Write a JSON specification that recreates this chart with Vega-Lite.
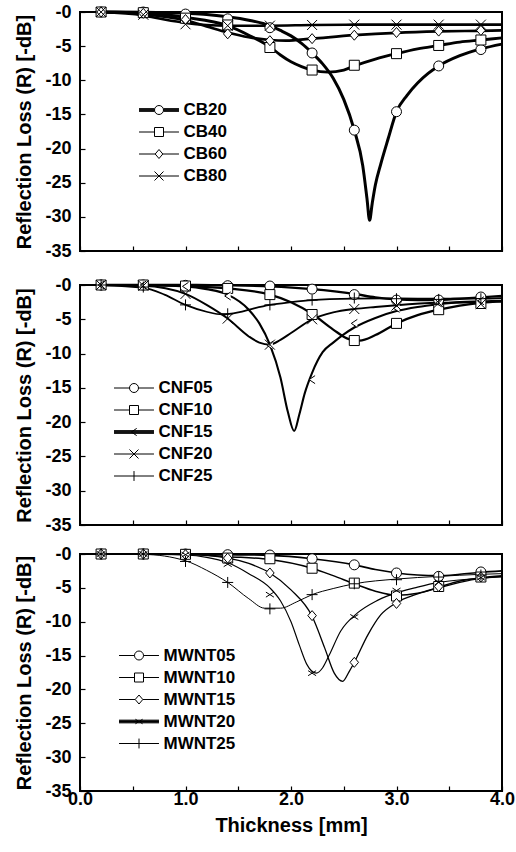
{
"$schema": "https://vega.github.io/schema/vega-lite/v6.json",
"padding": {"left": 13, "top": 2, "right": 5, "bottom": 5},
"config": {
  "font": "Liberation Sans",
  "view": {"stroke": "black", "strokeWidth": 2},
  "axis": {"domain": false, "grid": false, "ticks": true, "tickColor": "black", "tickSize": -5, "tickWidth": 1.2, "labelOverlap": false, "labelFlush": false,
    "labelFont": "Liberation Sans", "labelFontWeight": "bold", "labelFontSize": 18, "labelColor": "black",
    "titleFont": "Liberation Sans", "titleFontWeight": "bold", "titleFontSize": 20, "titleColor": "black"},
  "legend": {"labelFont": "Liberation Sans", "labelFontWeight": "bold", "labelFontSize": 17, "labelColor": "black",
    "symbolSize": 81, "symbolStrokeWidth": 1, "symbolStrokeColor": "black", "symbolFillColor": "white", "symbolOpacity": 1,
    "symbolOffset": 9.5, "labelOffset": 16, "rowPadding": 4, "padding": 0, "title": null}
},
"datasets": {
"curves": [
{"panel":"CB","series":"CB20","x":0.2,"y":0},{"panel":"CB","series":"CB20","x":0.6,"y":-0.05},{"panel":"CB","series":"CB20","x":1.0,"y":-0.2},{"panel":"CB","series":"CB20","x":1.2,"y":-0.35},{"panel":"CB","series":"CB20","x":1.4,"y":-0.7},{"panel":"CB","series":"CB20","x":1.6,"y":-1.2},{"panel":"CB","series":"CB20","x":1.8,"y":-2.0},{"panel":"CB","series":"CB20","x":1.9,"y":-2.7},{"panel":"CB","series":"CB20","x":2.0,"y":-3.5},{"panel":"CB","series":"CB20","x":2.1,"y":-4.6},{"panel":"CB","series":"CB20","x":2.2,"y":-6.0},{"panel":"CB","series":"CB20","x":2.3,"y":-7.6},{"panel":"CB","series":"CB20","x":2.4,"y":-9.7},{"panel":"CB","series":"CB20","x":2.5,"y":-12.8},{"panel":"CB","series":"CB20","x":2.6,"y":-17.3},{"panel":"CB","series":"CB20","x":2.68,"y":-22.5},{"panel":"CB","series":"CB20","x":2.72,"y":-27.3},{"panel":"CB","series":"CB20","x":2.745,"y":-30.5},{"panel":"CB","series":"CB20","x":2.77,"y":-28.0},{"panel":"CB","series":"CB20","x":2.8,"y":-25.3},{"panel":"CB","series":"CB20","x":2.85,"y":-22.3},{"panel":"CB","series":"CB20","x":2.92,"y":-18.6},{"panel":"CB","series":"CB20","x":3.0,"y":-14.6},{"panel":"CB","series":"CB20","x":3.1,"y":-12.2},{"panel":"CB","series":"CB20","x":3.2,"y":-10.4},{"panel":"CB","series":"CB20","x":3.3,"y":-9.0},{"panel":"CB","series":"CB20","x":3.4,"y":-7.9},{"panel":"CB","series":"CB20","x":3.6,"y":-6.4},{"panel":"CB","series":"CB20","x":3.8,"y":-5.4},{"panel":"CB","series":"CB20","x":4.0,"y":-4.7},
{"panel":"CB","series":"CB40","x":0.2,"y":0},{"panel":"CB","series":"CB40","x":0.6,"y":-0.15},{"panel":"CB","series":"CB40","x":1.0,"y":-0.8},{"panel":"CB","series":"CB40","x":1.4,"y":-2.0},{"panel":"CB","series":"CB40","x":1.6,"y":-3.4},{"panel":"CB","series":"CB40","x":1.8,"y":-5.1},{"panel":"CB","series":"CB40","x":1.9,"y":-6.3},{"panel":"CB","series":"CB40","x":2.0,"y":-7.3},{"panel":"CB","series":"CB40","x":2.1,"y":-8.0},{"panel":"CB","series":"CB40","x":2.2,"y":-8.5},{"panel":"CB","series":"CB40","x":2.35,"y":-8.8},{"panel":"CB","series":"CB40","x":2.5,"y":-8.5},{"panel":"CB","series":"CB40","x":2.6,"y":-7.9},{"panel":"CB","series":"CB40","x":2.8,"y":-6.9},{"panel":"CB","series":"CB40","x":3.0,"y":-6.1},{"panel":"CB","series":"CB40","x":3.2,"y":-5.4},{"panel":"CB","series":"CB40","x":3.4,"y":-4.9},{"panel":"CB","series":"CB40","x":3.6,"y":-4.4},{"panel":"CB","series":"CB40","x":3.8,"y":-4.1},{"panel":"CB","series":"CB40","x":4.0,"y":-3.8},
{"panel":"CB","series":"CB60","x":0.2,"y":0},{"panel":"CB","series":"CB60","x":0.6,"y":-0.3},{"panel":"CB","series":"CB60","x":1.0,"y":-1.2},{"panel":"CB","series":"CB60","x":1.2,"y":-2.1},{"panel":"CB","series":"CB60","x":1.4,"y":-3.0},{"panel":"CB","series":"CB60","x":1.6,"y":-3.7},{"panel":"CB","series":"CB60","x":1.8,"y":-4.1},{"panel":"CB","series":"CB60","x":1.95,"y":-4.2},{"panel":"CB","series":"CB60","x":2.2,"y":-3.9},{"panel":"CB","series":"CB60","x":2.6,"y":-3.4},{"panel":"CB","series":"CB60","x":3.0,"y":-3.05},{"panel":"CB","series":"CB60","x":3.4,"y":-2.85},{"panel":"CB","series":"CB60","x":3.8,"y":-2.75},{"panel":"CB","series":"CB60","x":4.0,"y":-2.7},
{"panel":"CB","series":"CB80","x":0.2,"y":0},{"panel":"CB","series":"CB80","x":0.6,"y":-0.5},{"panel":"CB","series":"CB80","x":0.8,"y":-1.1},{"panel":"CB","series":"CB80","x":1.0,"y":-1.6},{"panel":"CB","series":"CB80","x":1.2,"y":-1.9},{"panel":"CB","series":"CB80","x":1.4,"y":-2.0},{"panel":"CB","series":"CB80","x":1.8,"y":-2.0},{"panel":"CB","series":"CB80","x":2.2,"y":-1.9},{"panel":"CB","series":"CB80","x":2.6,"y":-1.85},{"panel":"CB","series":"CB80","x":3.0,"y":-1.85},{"panel":"CB","series":"CB80","x":3.4,"y":-1.85},{"panel":"CB","series":"CB80","x":3.8,"y":-1.85},{"panel":"CB","series":"CB80","x":4.0,"y":-1.85},
{"panel":"CNF","series":"CNF05","x":0.2,"y":0},{"panel":"CNF","series":"CNF05","x":1.0,"y":0},{"panel":"CNF","series":"CNF05","x":1.4,"y":-0.05},{"panel":"CNF","series":"CNF05","x":1.8,"y":-0.2},{"panel":"CNF","series":"CNF05","x":2.2,"y":-0.6},{"panel":"CNF","series":"CNF05","x":2.6,"y":-1.3},{"panel":"CNF","series":"CNF05","x":2.8,"y":-1.8},{"panel":"CNF","series":"CNF05","x":3.0,"y":-2.1},{"panel":"CNF","series":"CNF05","x":3.2,"y":-2.2},{"panel":"CNF","series":"CNF05","x":3.4,"y":-2.15},{"panel":"CNF","series":"CNF05","x":3.6,"y":-2.0},{"panel":"CNF","series":"CNF05","x":3.8,"y":-1.8},{"panel":"CNF","series":"CNF05","x":4.0,"y":-1.6},
{"panel":"CNF","series":"CNF10","x":0.2,"y":0},{"panel":"CNF","series":"CNF10","x":0.6,"y":0},{"panel":"CNF","series":"CNF10","x":1.0,"y":-0.15},{"panel":"CNF","series":"CNF10","x":1.4,"y":-0.5},{"panel":"CNF","series":"CNF10","x":1.8,"y":-1.4},{"panel":"CNF","series":"CNF10","x":2.0,"y":-2.5},{"panel":"CNF","series":"CNF10","x":2.2,"y":-4.2},{"panel":"CNF","series":"CNF10","x":2.4,"y":-6.5},{"panel":"CNF","series":"CNF10","x":2.55,"y":-7.9},{"panel":"CNF","series":"CNF10","x":2.65,"y":-8.1},{"panel":"CNF","series":"CNF10","x":2.8,"y":-7.3},{"panel":"CNF","series":"CNF10","x":3.0,"y":-5.6},{"panel":"CNF","series":"CNF10","x":3.2,"y":-4.4},{"panel":"CNF","series":"CNF10","x":3.4,"y":-3.6},{"panel":"CNF","series":"CNF10","x":3.6,"y":-3.0},{"panel":"CNF","series":"CNF10","x":3.8,"y":-2.6},{"panel":"CNF","series":"CNF10","x":4.0,"y":-2.4},
{"panel":"CNF","series":"CNF15","x":0.2,"y":0},{"panel":"CNF","series":"CNF15","x":0.6,"y":-0.02},{"panel":"CNF","series":"CNF15","x":1.0,"y":-0.2},{"panel":"CNF","series":"CNF15","x":1.2,"y":-0.6},{"panel":"CNF","series":"CNF15","x":1.4,"y":-1.4},{"panel":"CNF","series":"CNF15","x":1.6,"y":-3.6},{"panel":"CNF","series":"CNF15","x":1.7,"y":-5.6},{"panel":"CNF","series":"CNF15","x":1.8,"y":-8.7},{"panel":"CNF","series":"CNF15","x":1.9,"y":-13.5},{"panel":"CNF","series":"CNF15","x":1.97,"y":-18.5},{"panel":"CNF","series":"CNF15","x":2.03,"y":-21.3},{"panel":"CNF","series":"CNF15","x":2.08,"y":-18.8},{"panel":"CNF","series":"CNF15","x":2.13,"y":-15.8},{"panel":"CNF","series":"CNF15","x":2.2,"y":-12.8},{"panel":"CNF","series":"CNF15","x":2.3,"y":-9.8},{"panel":"CNF","series":"CNF15","x":2.4,"y":-8.4},{"panel":"CNF","series":"CNF15","x":2.5,"y":-7.2},{"panel":"CNF","series":"CNF15","x":2.6,"y":-6.2},{"panel":"CNF","series":"CNF15","x":2.8,"y":-4.8},{"panel":"CNF","series":"CNF15","x":3.0,"y":-3.8},{"panel":"CNF","series":"CNF15","x":3.2,"y":-3.2},{"panel":"CNF","series":"CNF15","x":3.4,"y":-2.8},{"panel":"CNF","series":"CNF15","x":3.6,"y":-2.5},{"panel":"CNF","series":"CNF15","x":3.8,"y":-2.4},{"panel":"CNF","series":"CNF15","x":4.0,"y":-2.3},
{"panel":"CNF","series":"CNF20","x":0.2,"y":0},{"panel":"CNF","series":"CNF20","x":0.6,"y":-0.1},{"panel":"CNF","series":"CNF20","x":1.0,"y":-1.3},{"panel":"CNF","series":"CNF20","x":1.2,"y":-2.9},{"panel":"CNF","series":"CNF20","x":1.4,"y":-4.9},{"panel":"CNF","series":"CNF20","x":1.6,"y":-7.5},{"panel":"CNF","series":"CNF20","x":1.7,"y":-8.4},{"panel":"CNF","series":"CNF20","x":1.8,"y":-8.7},{"panel":"CNF","series":"CNF20","x":1.9,"y":-8.0},{"panel":"CNF","series":"CNF20","x":2.0,"y":-7.0},{"panel":"CNF","series":"CNF20","x":2.2,"y":-5.0},{"panel":"CNF","series":"CNF20","x":2.4,"y":-4.0},{"panel":"CNF","series":"CNF20","x":2.6,"y":-3.5},{"panel":"CNF","series":"CNF20","x":2.8,"y":-3.2},{"panel":"CNF","series":"CNF20","x":3.0,"y":-2.95},{"panel":"CNF","series":"CNF20","x":3.4,"y":-2.6},{"panel":"CNF","series":"CNF20","x":3.8,"y":-2.5},{"panel":"CNF","series":"CNF20","x":4.0,"y":-2.4},
{"panel":"CNF","series":"CNF25","x":0.2,"y":0},{"panel":"CNF","series":"CNF25","x":0.6,"y":-0.4},{"panel":"CNF","series":"CNF25","x":0.8,"y":-1.4},{"panel":"CNF","series":"CNF25","x":1.0,"y":-2.9},{"panel":"CNF","series":"CNF25","x":1.2,"y":-3.9},{"panel":"CNF","series":"CNF25","x":1.35,"y":-4.3},{"panel":"CNF","series":"CNF25","x":1.5,"y":-4.0},{"panel":"CNF","series":"CNF25","x":1.65,"y":-3.4},{"panel":"CNF","series":"CNF25","x":1.8,"y":-2.9},{"panel":"CNF","series":"CNF25","x":2.0,"y":-2.5},{"panel":"CNF","series":"CNF25","x":2.2,"y":-2.2},{"panel":"CNF","series":"CNF25","x":2.6,"y":-2.0},{"panel":"CNF","series":"CNF25","x":3.0,"y":-1.95},{"panel":"CNF","series":"CNF25","x":3.4,"y":-2.0},{"panel":"CNF","series":"CNF25","x":3.8,"y":-2.0},{"panel":"CNF","series":"CNF25","x":4.0,"y":-1.9},
{"panel":"MWNT","series":"MWNT05","x":0.2,"y":0},{"panel":"MWNT","series":"MWNT05","x":1.0,"y":0},{"panel":"MWNT","series":"MWNT05","x":1.4,"y":-0.1},{"panel":"MWNT","series":"MWNT05","x":1.8,"y":-0.2},{"panel":"MWNT","series":"MWNT05","x":2.2,"y":-0.7},{"panel":"MWNT","series":"MWNT05","x":2.6,"y":-1.6},{"panel":"MWNT","series":"MWNT05","x":2.8,"y":-2.3},{"panel":"MWNT","series":"MWNT05","x":3.0,"y":-2.8},{"panel":"MWNT","series":"MWNT05","x":3.2,"y":-3.1},{"panel":"MWNT","series":"MWNT05","x":3.4,"y":-3.2},{"panel":"MWNT","series":"MWNT05","x":3.6,"y":-3.0},{"panel":"MWNT","series":"MWNT05","x":3.8,"y":-2.7},{"panel":"MWNT","series":"MWNT05","x":4.0,"y":-2.5},
{"panel":"MWNT","series":"MWNT10","x":0.2,"y":0},{"panel":"MWNT","series":"MWNT10","x":1.0,"y":-0.05},{"panel":"MWNT","series":"MWNT10","x":1.4,"y":-0.4},{"panel":"MWNT","series":"MWNT10","x":1.8,"y":-0.8},{"panel":"MWNT","series":"MWNT10","x":2.2,"y":-2.1},{"panel":"MWNT","series":"MWNT10","x":2.4,"y":-3.2},{"panel":"MWNT","series":"MWNT10","x":2.6,"y":-4.4},{"panel":"MWNT","series":"MWNT10","x":2.8,"y":-5.5},{"panel":"MWNT","series":"MWNT10","x":3.0,"y":-6.1},{"panel":"MWNT","series":"MWNT10","x":3.2,"y":-5.8},{"panel":"MWNT","series":"MWNT10","x":3.4,"y":-4.9},{"panel":"MWNT","series":"MWNT10","x":3.6,"y":-4.0},{"panel":"MWNT","series":"MWNT10","x":3.8,"y":-3.5},{"panel":"MWNT","series":"MWNT10","x":4.0,"y":-3.2},
{"panel":"MWNT","series":"MWNT15","x":0.2,"y":0},{"panel":"MWNT","series":"MWNT15","x":1.0,"y":-0.1},{"panel":"MWNT","series":"MWNT15","x":1.4,"y":-0.6},{"panel":"MWNT","series":"MWNT15","x":1.6,"y":-1.4},{"panel":"MWNT","series":"MWNT15","x":1.8,"y":-2.8},{"panel":"MWNT","series":"MWNT15","x":2.0,"y":-5.3},{"panel":"MWNT","series":"MWNT15","x":2.2,"y":-9.2},{"panel":"MWNT","series":"MWNT15","x":2.32,"y":-13.9},{"panel":"MWNT","series":"MWNT15","x":2.41,"y":-17.6},{"panel":"MWNT","series":"MWNT15","x":2.49,"y":-18.8},{"panel":"MWNT","series":"MWNT15","x":2.55,"y":-17.4},{"panel":"MWNT","series":"MWNT15","x":2.6,"y":-16.0},{"panel":"MWNT","series":"MWNT15","x":2.73,"y":-11.9},{"panel":"MWNT","series":"MWNT15","x":2.85,"y":-9.0},{"panel":"MWNT","series":"MWNT15","x":3.0,"y":-7.2},{"panel":"MWNT","series":"MWNT15","x":3.2,"y":-5.9},{"panel":"MWNT","series":"MWNT15","x":3.4,"y":-5.0},{"panel":"MWNT","series":"MWNT15","x":3.6,"y":-4.2},{"panel":"MWNT","series":"MWNT15","x":3.8,"y":-3.6},{"panel":"MWNT","series":"MWNT15","x":4.0,"y":-3.3},
{"panel":"MWNT","series":"MWNT20","x":0.2,"y":0},{"panel":"MWNT","series":"MWNT20","x":0.6,"y":0},{"panel":"MWNT","series":"MWNT20","x":1.0,"y":-0.15},{"panel":"MWNT","series":"MWNT20","x":1.2,"y":-0.5},{"panel":"MWNT","series":"MWNT20","x":1.4,"y":-1.3},{"panel":"MWNT","series":"MWNT20","x":1.6,"y":-2.9},{"panel":"MWNT","series":"MWNT20","x":1.8,"y":-5.0},{"panel":"MWNT","series":"MWNT20","x":1.9,"y":-6.9},{"panel":"MWNT","series":"MWNT20","x":2.0,"y":-10.0},{"panel":"MWNT","series":"MWNT20","x":2.08,"y":-13.5},{"panel":"MWNT","series":"MWNT20","x":2.15,"y":-16.3},{"panel":"MWNT","series":"MWNT20","x":2.24,"y":-17.6},{"panel":"MWNT","series":"MWNT20","x":2.3,"y":-16.8},{"panel":"MWNT","series":"MWNT20","x":2.36,"y":-15.0},{"panel":"MWNT","series":"MWNT20","x":2.47,"y":-11.4},{"panel":"MWNT","series":"MWNT20","x":2.63,"y":-8.7},{"panel":"MWNT","series":"MWNT20","x":2.8,"y":-7.0},{"panel":"MWNT","series":"MWNT20","x":2.95,"y":-6.0},{"panel":"MWNT","series":"MWNT20","x":3.2,"y":-4.9},{"panel":"MWNT","series":"MWNT20","x":3.4,"y":-4.2},{"panel":"MWNT","series":"MWNT20","x":3.7,"y":-3.7},{"panel":"MWNT","series":"MWNT20","x":4.0,"y":-3.4},
{"panel":"MWNT","series":"MWNT25","x":0.2,"y":0},{"panel":"MWNT","series":"MWNT25","x":0.6,"y":-0.05},{"panel":"MWNT","series":"MWNT25","x":1.0,"y":-1.0},{"panel":"MWNT","series":"MWNT25","x":1.2,"y":-2.4},{"panel":"MWNT","series":"MWNT25","x":1.4,"y":-4.2},{"panel":"MWNT","series":"MWNT25","x":1.6,"y":-6.6},{"panel":"MWNT","series":"MWNT25","x":1.75,"y":-8.0},{"panel":"MWNT","series":"MWNT25","x":1.9,"y":-8.0},{"panel":"MWNT","series":"MWNT25","x":2.05,"y":-7.1},{"panel":"MWNT","series":"MWNT25","x":2.2,"y":-6.0},{"panel":"MWNT","series":"MWNT25","x":2.4,"y":-5.1},{"panel":"MWNT","series":"MWNT25","x":2.6,"y":-4.4},{"panel":"MWNT","series":"MWNT25","x":3.0,"y":-3.7},{"panel":"MWNT","series":"MWNT25","x":3.4,"y":-3.3},{"panel":"MWNT","series":"MWNT25","x":3.8,"y":-3.0},{"panel":"MWNT","series":"MWNT25","x":4.0,"y":-2.9}
],
"points": [
{"panel":"CB","series":"CB20","x":0.2,"y":0},{"panel":"CB","series":"CB20","x":0.6,"y":0},{"panel":"CB","series":"CB20","x":1.0,"y":-0.3},{"panel":"CB","series":"CB20","x":1.4,"y":-1.0},{"panel":"CB","series":"CB20","x":1.8,"y":-2.3},{"panel":"CB","series":"CB20","x":2.2,"y":-6.0},{"panel":"CB","series":"CB20","x":2.6,"y":-17.3},{"panel":"CB","series":"CB20","x":3.0,"y":-14.6},{"panel":"CB","series":"CB20","x":3.4,"y":-7.9},{"panel":"CB","series":"CB20","x":3.8,"y":-5.5},
{"panel":"CB","series":"CB40","x":0.2,"y":0},{"panel":"CB","series":"CB40","x":0.6,"y":-0.1},{"panel":"CB","series":"CB40","x":1.0,"y":-0.9},{"panel":"CB","series":"CB40","x":1.4,"y":-1.9},{"panel":"CB","series":"CB40","x":1.8,"y":-5.2},{"panel":"CB","series":"CB40","x":2.2,"y":-8.5},{"panel":"CB","series":"CB40","x":2.6,"y":-7.8},{"panel":"CB","series":"CB40","x":3.0,"y":-6.1},{"panel":"CB","series":"CB40","x":3.4,"y":-4.9},{"panel":"CB","series":"CB40","x":3.8,"y":-4.1},
{"panel":"CB","series":"CB60","x":0.2,"y":0},{"panel":"CB","series":"CB60","x":0.6,"y":-0.2},{"panel":"CB","series":"CB60","x":1.0,"y":-1.1},{"panel":"CB","series":"CB60","x":1.4,"y":-3.2},{"panel":"CB","series":"CB60","x":1.8,"y":-4.2},{"panel":"CB","series":"CB60","x":2.2,"y":-3.9},{"panel":"CB","series":"CB60","x":2.6,"y":-3.4},{"panel":"CB","series":"CB60","x":3.0,"y":-3.0},{"panel":"CB","series":"CB60","x":3.4,"y":-2.8},{"panel":"CB","series":"CB60","x":3.8,"y":-2.7},
{"panel":"CB","series":"CB80","x":0.2,"y":0},{"panel":"CB","series":"CB80","x":0.6,"y":-0.4},{"panel":"CB","series":"CB80","x":1.0,"y":-1.8},{"panel":"CB","series":"CB80","x":1.4,"y":-2.0},{"panel":"CB","series":"CB80","x":1.8,"y":-2.0},{"panel":"CB","series":"CB80","x":2.2,"y":-1.9},{"panel":"CB","series":"CB80","x":2.6,"y":-1.85},{"panel":"CB","series":"CB80","x":3.0,"y":-1.85},{"panel":"CB","series":"CB80","x":3.4,"y":-1.85},{"panel":"CB","series":"CB80","x":3.8,"y":-1.85},
{"panel":"CNF","series":"CNF05","x":0.2,"y":0},{"panel":"CNF","series":"CNF05","x":0.6,"y":0},{"panel":"CNF","series":"CNF05","x":1.0,"y":-0.05},{"panel":"CNF","series":"CNF05","x":1.4,"y":-0.1},{"panel":"CNF","series":"CNF05","x":1.8,"y":-0.15},{"panel":"CNF","series":"CNF05","x":2.2,"y":-0.6},{"panel":"CNF","series":"CNF05","x":2.6,"y":-1.4},{"panel":"CNF","series":"CNF05","x":3.0,"y":-2.2},{"panel":"CNF","series":"CNF05","x":3.4,"y":-2.2},{"panel":"CNF","series":"CNF05","x":3.8,"y":-1.75},
{"panel":"CNF","series":"CNF10","x":0.2,"y":0},{"panel":"CNF","series":"CNF10","x":0.6,"y":0},{"panel":"CNF","series":"CNF10","x":1.0,"y":-0.15},{"panel":"CNF","series":"CNF10","x":1.4,"y":-0.5},{"panel":"CNF","series":"CNF10","x":1.8,"y":-1.4},{"panel":"CNF","series":"CNF10","x":2.2,"y":-4.3},{"panel":"CNF","series":"CNF10","x":2.6,"y":-8.1},{"panel":"CNF","series":"CNF10","x":3.0,"y":-5.6},{"panel":"CNF","series":"CNF10","x":3.4,"y":-3.6},{"panel":"CNF","series":"CNF10","x":3.8,"y":-2.7},
{"panel":"CNF","series":"CNF15","x":0.2,"y":0},{"panel":"CNF","series":"CNF15","x":0.6,"y":0},{"panel":"CNF","series":"CNF15","x":1.0,"y":-0.2},{"panel":"CNF","series":"CNF15","x":1.4,"y":-1.6},{"panel":"CNF","series":"CNF15","x":1.8,"y":-8.8},{"panel":"CNF","series":"CNF15","x":2.2,"y":-13.8},{"panel":"CNF","series":"CNF15","x":2.6,"y":-5.6},{"panel":"CNF","series":"CNF15","x":3.0,"y":-3.4},{"panel":"CNF","series":"CNF15","x":3.4,"y":-2.6},{"panel":"CNF","series":"CNF15","x":3.8,"y":-2.3},
{"panel":"CNF","series":"CNF20","x":0.2,"y":0},{"panel":"CNF","series":"CNF20","x":0.6,"y":-0.1},{"panel":"CNF","series":"CNF20","x":1.0,"y":-1.3},{"panel":"CNF","series":"CNF20","x":1.4,"y":-4.9},{"panel":"CNF","series":"CNF20","x":1.8,"y":-8.7},{"panel":"CNF","series":"CNF20","x":2.2,"y":-5.0},{"panel":"CNF","series":"CNF20","x":2.6,"y":-3.5},{"panel":"CNF","series":"CNF20","x":3.0,"y":-3.0},{"panel":"CNF","series":"CNF20","x":3.4,"y":-2.6},{"panel":"CNF","series":"CNF20","x":3.8,"y":-2.8},
{"panel":"CNF","series":"CNF25","x":0.2,"y":0},{"panel":"CNF","series":"CNF25","x":0.6,"y":-0.3},{"panel":"CNF","series":"CNF25","x":1.0,"y":-2.9},{"panel":"CNF","series":"CNF25","x":1.4,"y":-4.2},{"panel":"CNF","series":"CNF25","x":1.8,"y":-2.9},{"panel":"CNF","series":"CNF25","x":2.2,"y":-2.2},{"panel":"CNF","series":"CNF25","x":2.6,"y":-1.9},{"panel":"CNF","series":"CNF25","x":3.0,"y":-2.0},{"panel":"CNF","series":"CNF25","x":3.4,"y":-2.1},{"panel":"CNF","series":"CNF25","x":3.8,"y":-2.0},
{"panel":"MWNT","series":"MWNT05","x":0.2,"y":0},{"panel":"MWNT","series":"MWNT05","x":0.6,"y":0},{"panel":"MWNT","series":"MWNT05","x":1.0,"y":0},{"panel":"MWNT","series":"MWNT05","x":1.4,"y":-0.1},{"panel":"MWNT","series":"MWNT05","x":1.8,"y":-0.15},{"panel":"MWNT","series":"MWNT05","x":2.2,"y":-0.7},{"panel":"MWNT","series":"MWNT05","x":2.6,"y":-1.6},{"panel":"MWNT","series":"MWNT05","x":3.0,"y":-2.8},{"panel":"MWNT","series":"MWNT05","x":3.4,"y":-3.3},{"panel":"MWNT","series":"MWNT05","x":3.8,"y":-2.65},
{"panel":"MWNT","series":"MWNT10","x":0.2,"y":0},{"panel":"MWNT","series":"MWNT10","x":0.6,"y":0},{"panel":"MWNT","series":"MWNT10","x":1.0,"y":-0.05},{"panel":"MWNT","series":"MWNT10","x":1.4,"y":-0.6},{"panel":"MWNT","series":"MWNT10","x":1.8,"y":-0.7},{"panel":"MWNT","series":"MWNT10","x":2.2,"y":-2.1},{"panel":"MWNT","series":"MWNT10","x":2.6,"y":-4.3},{"panel":"MWNT","series":"MWNT10","x":3.0,"y":-6.2},{"panel":"MWNT","series":"MWNT10","x":3.4,"y":-4.8},{"panel":"MWNT","series":"MWNT10","x":3.8,"y":-3.4},
{"panel":"MWNT","series":"MWNT15","x":0.2,"y":0},{"panel":"MWNT","series":"MWNT15","x":0.6,"y":0},{"panel":"MWNT","series":"MWNT15","x":1.0,"y":-0.1},{"panel":"MWNT","series":"MWNT15","x":1.4,"y":-0.6},{"panel":"MWNT","series":"MWNT15","x":1.8,"y":-2.8},{"panel":"MWNT","series":"MWNT15","x":2.2,"y":-9.1},{"panel":"MWNT","series":"MWNT15","x":2.6,"y":-16.0},{"panel":"MWNT","series":"MWNT15","x":3.0,"y":-7.3},{"panel":"MWNT","series":"MWNT15","x":3.4,"y":-4.8},{"panel":"MWNT","series":"MWNT15","x":3.8,"y":-3.4},
{"panel":"MWNT","series":"MWNT20","x":0.2,"y":0},{"panel":"MWNT","series":"MWNT20","x":0.6,"y":0},{"panel":"MWNT","series":"MWNT20","x":1.0,"y":-0.1},{"panel":"MWNT","series":"MWNT20","x":1.4,"y":-1.5},{"panel":"MWNT","series":"MWNT20","x":1.8,"y":-6.0},{"panel":"MWNT","series":"MWNT20","x":2.2,"y":-17.6},{"panel":"MWNT","series":"MWNT20","x":2.6,"y":-9.3},{"panel":"MWNT","series":"MWNT20","x":3.0,"y":-5.4},{"panel":"MWNT","series":"MWNT20","x":3.4,"y":-4.2},{"panel":"MWNT","series":"MWNT20","x":3.8,"y":-3.5},
{"panel":"MWNT","series":"MWNT25","x":0.2,"y":0},{"panel":"MWNT","series":"MWNT25","x":0.6,"y":0},{"panel":"MWNT","series":"MWNT25","x":1.0,"y":-1.1},{"panel":"MWNT","series":"MWNT25","x":1.4,"y":-4.2},{"panel":"MWNT","series":"MWNT25","x":1.8,"y":-8.1},{"panel":"MWNT","series":"MWNT25","x":2.2,"y":-6.0},{"panel":"MWNT","series":"MWNT25","x":2.6,"y":-4.4},{"panel":"MWNT","series":"MWNT25","x":3.0,"y":-3.8},{"panel":"MWNT","series":"MWNT25","x":3.4,"y":-3.4},{"panel":"MWNT","series":"MWNT25","x":3.8,"y":-3.1}
]
},
"spacing": 9,
"vconcat": [
{"spacing": 34, "bounds": "flush", "vconcat": [
{"width": 422, "height": 239,
 "resolve": {"scale": {"shape": "independent"}},
 "encoding": {
  "x": {"field": "x", "type": "quantitative", "scale": {"domain": [0, 4], "nice": false}, "axis": {"values": [0,0.5,1,1.5,2,2.5,3,3.5,4], "labels": false, "title": null}},
  "y": {"field": "y", "type": "quantitative", "scale": {"domain": [-35, 0], "nice": false}, "axis": {"values": [-35,-30,-25,-20,-15,-10,-5,0], "labelOverlap": false, "labelSeparation": 0, "labelPadding": 14, "labelExpr": "datum.value == 0 ? '-0' : '-' + abs(datum.value)", "title": "Reflection Loss (R) [-dB]", "titlePadding": 10}}},
 "layer": [
  {"data": {"name": "curves"}, "transform": [{"filter": "datum.panel == 'CB'"}],
   "mark": {"type": "line", "interpolate": "monotone", "color": "black"},
   "encoding": {
    "detail": {"field": "series"},
    "strokeWidth": {"field": "series", "type": "nominal", "scale": {"domain": ["CB20","CB40","CB60","CB80"], "range": [3, 1, 1, 1]}, "legend": null}}},
  {"data": {"name": "points"}, "transform": [{"filter": "datum.panel == 'CB'"}],
   "mark": {"type": "point", "filled": true, "fill": "white", "stroke": "black", "strokeWidth": 1, "opacity": 1, "size": 100},
   "encoding": {
    "shape": {"field": "series", "type": "nominal", "scale": {"domain": ["CB20","CB40","CB60","CB80"], "range": ["M-1,0A1,1 0 1,1 1,0A1,1 0 1,1 -1,0Z", "M-1,-1H1V1H-1Z", "M0,-1L0.85,0L0,1L-0.85,0Z", "M-1,-1L1,1M-1,1L1,-1"]}, "legend": null}}},
  {"data": {"name": "points"}, "transform": [{"filter": "datum.panel == 'CB'"}],
   "mark": {"type": "point", "opacity": 0},
   "encoding": {
    "shape": {"field": "series", "type": "nominal", "scale": {"domain": ["CB20","CB40","CB60","CB80"], "range": [
      "M-4.44,-0.3H-1M-4.44,-0.15H-1M-4.44,0H-1M-4.44,0.15H-1M-4.44,0.3H-1M1,-0.3H4.44M1,-0.15H4.44M1,0H4.44M1,0.15H4.44M1,0.3H4.44M-1,0A1,1 0 1,1 1,0A1,1 0 1,1 -1,0Z",
      "M-4.44,0H-1M1,0H4.44M-1,-1H1V1H-1Z",
      "M-4.44,0H-0.85M0.85,0H4.44M0,-1L0.85,0L0,1L-0.85,0Z",
      "M-4.44,0H4.44M-1,-1L1,1M-1,1L1,-1"]},
     "legend": {"orient": "none", "legendX": 61, "legendY": 89.5, "title": null, "symbolOpacity": 1}}}}
 ]},
{"width": 422, "height": 240,
 "resolve": {"scale": {"shape": "independent"}},
 "encoding": {
  "x": {"field": "x", "type": "quantitative", "scale": {"domain": [0, 4], "nice": false}, "axis": {"values": [0,0.5,1,1.5,2,2.5,3,3.5,4], "labels": false, "title": null}},
  "y": {"field": "y", "type": "quantitative", "scale": {"domain": [-35, 0], "nice": false}, "axis": {"values": [-35,-30,-25,-20,-15,-10,-5,0], "labelOverlap": false, "labelSeparation": 0, "labelPadding": 14, "labelExpr": "datum.value == 0 ? '-0' : '-' + abs(datum.value)", "title": "Reflection Loss (R) [-dB]", "titlePadding": 10}}},
 "layer": [
  {"data": {"name": "curves"}, "transform": [{"filter": "datum.panel == 'CNF'"}],
   "mark": {"type": "line", "interpolate": "monotone", "color": "black"},
   "encoding": {
    "detail": {"field": "series"},
    "strokeWidth": {"field": "series", "type": "nominal", "scale": {"domain": ["CNF05","CNF10","CNF15","CNF20","CNF25"], "range": [1, 1, 3, 1, 1]}, "legend": null}}},
  {"data": {"name": "points"}, "transform": [{"filter": "datum.panel == 'CNF'"}],
   "mark": {"type": "point", "filled": true, "fill": "white", "stroke": "black", "strokeWidth": 1, "opacity": 1, "size": 100},
   "encoding": {
    "shape": {"field": "series", "type": "nominal", "scale": {"domain": ["CNF05","CNF10","CNF15","CNF20","CNF25"], "range": ["M-1,0A1,1 0 1,1 1,0A1,1 0 1,1 -1,0Z", "M-1,-1H1V1H-1Z", "M0.6,-0.8L-0.6,0L0.6,0.8", "M-1,-1L1,1M-1,1L1,-1", "M0,-1.1V1.1M-1.1,0H1.1"]}, "legend": null}}},
  {"data": {"name": "points"}, "transform": [{"filter": "datum.panel == 'CNF'"}],
   "mark": {"type": "point", "opacity": 0},
   "encoding": {
    "shape": {"field": "series", "type": "nominal", "scale": {"domain": ["CNF05","CNF10","CNF15","CNF20","CNF25"], "range": [
      "M-4.44,0H-1M1,0H4.44M-1,0A1,1 0 1,1 1,0A1,1 0 1,1 -1,0Z",
      "M-4.44,0H-1M1,0H4.44M-1,-1H1V1H-1Z",
      "M-4.44,-0.3H4.44M-4.44,-0.15H4.44M-4.44,0H4.44M-4.44,0.15H4.44M-4.44,0.3H4.44M0.6,-0.8L-0.6,0L0.6,0.8",
      "M-4.44,0H4.44M-1,-1L1,1M-1,1L1,-1",
      "M-4.44,0H4.44M0,-1.1V1.1"]},
     "legend": {"orient": "none", "legendX": 36, "legendY": 94.5, "title": null, "symbolOpacity": 1}}}}
 ]}
]},
{"width": 422, "height": 237,
 "resolve": {"scale": {"shape": "independent"}},
 "encoding": {
  "x": {"field": "x", "type": "quantitative", "scale": {"domain": [0, 4], "nice": false}, "axis": {"values": [0,0.5,1,1.5,2,2.5,3,3.5,4], "labelExpr": "datum.value % 1 == 0 ? format(datum.value, '.1f') : ''", "labelFlush": false, "labelOverlap": false, "labelPadding": 4, "title": "Thickness [mm]", "titlePadding": 7}},
  "y": {"field": "y", "type": "quantitative", "scale": {"domain": [-35, 0], "nice": false}, "axis": {"values": [-35,-30,-25,-20,-15,-10,-5,0], "labelOverlap": false, "labelSeparation": 0, "labelPadding": 14, "labelExpr": "datum.value == 0 ? '-0' : '-' + abs(datum.value)", "title": "Reflection Loss (R) [-dB]", "titlePadding": 10}}},
 "layer": [
  {"data": {"name": "curves"}, "transform": [{"filter": "datum.panel == 'MWNT'"}],
   "mark": {"type": "line", "interpolate": "monotone", "color": "black"},
   "encoding": {
    "detail": {"field": "series"},
    "strokeWidth": {"field": "series", "type": "nominal", "scale": {"domain": ["MWNT05","MWNT10","MWNT15","MWNT20","MWNT25"], "range": [1, 1, 1, 3, 1]}, "legend": null}}},
  {"data": {"name": "points"}, "transform": [{"filter": "datum.panel == 'MWNT'"}],
   "mark": {"type": "point", "filled": true, "fill": "white", "stroke": "black", "strokeWidth": 1, "opacity": 1, "size": 100},
   "encoding": {
    "shape": {"field": "series", "type": "nominal", "scale": {"domain": ["MWNT05","MWNT10","MWNT15","MWNT20","MWNT25"], "range": ["M-1,0A1,1 0 1,1 1,0A1,1 0 1,1 -1,0Z", "M-1,-1H1V1H-1Z", "M0,-1L0.85,0L0,1L-0.85,0Z", "M-0.8,-0.5L0.8,0.5M-0.8,0.5L0.8,-0.5", "M0,-1.1V1.1M-1.1,0H1.1"]}, "legend": null}}},
  {"data": {"name": "points"}, "transform": [{"filter": "datum.panel == 'MWNT'"}],
   "mark": {"type": "point", "opacity": 0},
   "encoding": {
    "shape": {"field": "series", "type": "nominal", "scale": {"domain": ["MWNT05","MWNT10","MWNT15","MWNT20","MWNT25"], "range": [
      "M-4.44,0H-1M1,0H4.44M-1,0A1,1 0 1,1 1,0A1,1 0 1,1 -1,0Z",
      "M-4.44,0H-1M1,0H4.44M-1,-1H1V1H-1Z",
      "M-4.44,0H-0.85M0.85,0H4.44M0,-1L0.85,0L0,1L-0.85,0Z",
      "M-4.44,-0.3H4.44M-4.44,-0.15H4.44M-4.44,0H4.44M-4.44,0.15H4.44M-4.44,0.3H4.44M-0.8,-0.5L0.8,0.5M-0.8,0.5L0.8,-0.5",
      "M-4.44,0H4.44M0,-1.1V1.1"]},
     "legend": {"orient": "none", "legendX": 41, "legendY": 93, "title": null, "symbolOpacity": 1}}}}
 ]}
]
}
